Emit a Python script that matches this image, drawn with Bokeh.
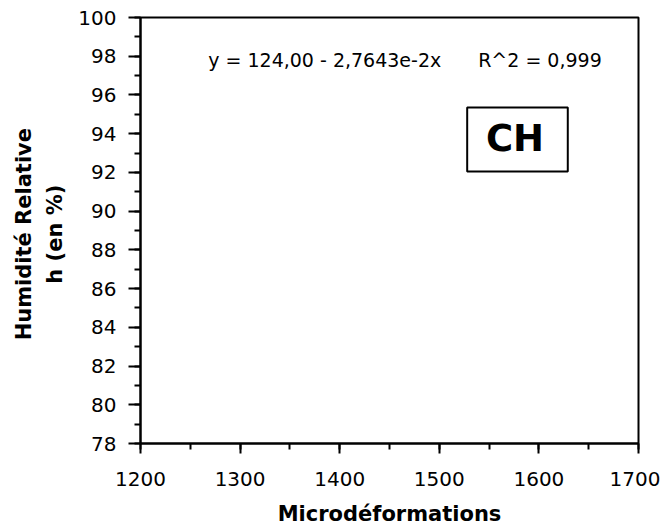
from bokeh.plotting import figure
from bokeh.models import SingleIntervalTicker, BoxAnnotation, Label, Range1d
from bokeh.embed import file_html
from bokeh.resources import INLINE

# ---- data ----
x_ticks = [1200, 1300, 1400, 1500, 1600, 1700]
y_ticks = [78, 80, 82, 84, 86, 88, 90, 92, 94, 96, 98, 100]
x_label = "Microdéformations"
y_label = "Humidité  Relative\nh  (en %)"
equation_fit = "y = 124,00 - 2,7643e-2x"
equation_r2 = "R^2 = 0,999"
sample = "CH"

FONT = "DejaVu Sans"

p = figure(width=660, height=530, output_backend="svg", toolbar_location=None,
           x_range=Range1d(x_ticks[0], x_ticks[-1]),
           y_range=Range1d(y_ticks[0], y_ticks[-1]),
           min_border_left=140, min_border_right=22,
           min_border_top=17, min_border_bottom=87)

p.grid.visible = False
p.background_fill_color = "white"
p.border_fill_color = "white"
p.outline_line_color = "black"
p.outline_line_width = 2
p.outline_line_alpha = 1

p.xaxis.ticker = SingleIntervalTicker(interval=x_ticks[1] - x_ticks[0], num_minor_ticks=2)
p.yaxis.ticker = SingleIntervalTicker(interval=y_ticks[1] - y_ticks[0], num_minor_ticks=2)

for ax in (p.xaxis[0], p.yaxis[0]):
    ax.axis_line_width = 2
    ax.axis_line_color = "black"
    ax.major_tick_line_width = 2
    ax.minor_tick_line_width = 2
    ax.major_tick_in = 0
    ax.minor_tick_in = 0
    ax.major_label_text_font = FONT
    ax.major_label_text_font_size = "20px"
    ax.major_label_text_color = "black"
    ax.axis_label_text_font = FONT
    ax.axis_label_text_font_style = "bold"
    ax.axis_label_text_font_size = "21px"
    ax.axis_label_text_color = "black"

p.xaxis.major_tick_out = 10
p.xaxis.minor_tick_out = 6
p.xaxis.major_label_standoff = 18
p.xaxis.axis_label = x_label
p.xaxis.axis_label_standoff = 13

p.yaxis.major_tick_out = 12
p.yaxis.minor_tick_out = 6
p.yaxis.major_label_standoff = 12
p.yaxis.axis_label = y_label
p.yaxis.axis_label_standoff = 8
p.yaxis.axis_label_text_line_height = 1.3

# regression equation text
p.add_layout(Label(x=1268, y=97.83, text=equation_fit, text_font=FONT,
                   text_font_size="19px", text_color="black",
                   text_align="left", text_baseline="middle"))
p.add_layout(Label(x=1539, y=97.83, text=equation_r2, text_font=FONT,
                   text_font_size="19px", text_color="black",
                   text_align="left", text_baseline="middle"))

# sample label box
p.add_layout(BoxAnnotation(left=1528, right=1629, top=95.35, bottom=92.05,
                           fill_alpha=0, line_color="black", line_alpha=1,
                           line_width=2))
p.add_layout(Label(x=1576, y=93.75, text=sample, text_font=FONT,
                   text_font_style="bold", text_font_size="37px",
                   text_color="black", text_align="center",
                   text_baseline="middle"))

open("out.html", "w").write(file_html(p, INLINE))
